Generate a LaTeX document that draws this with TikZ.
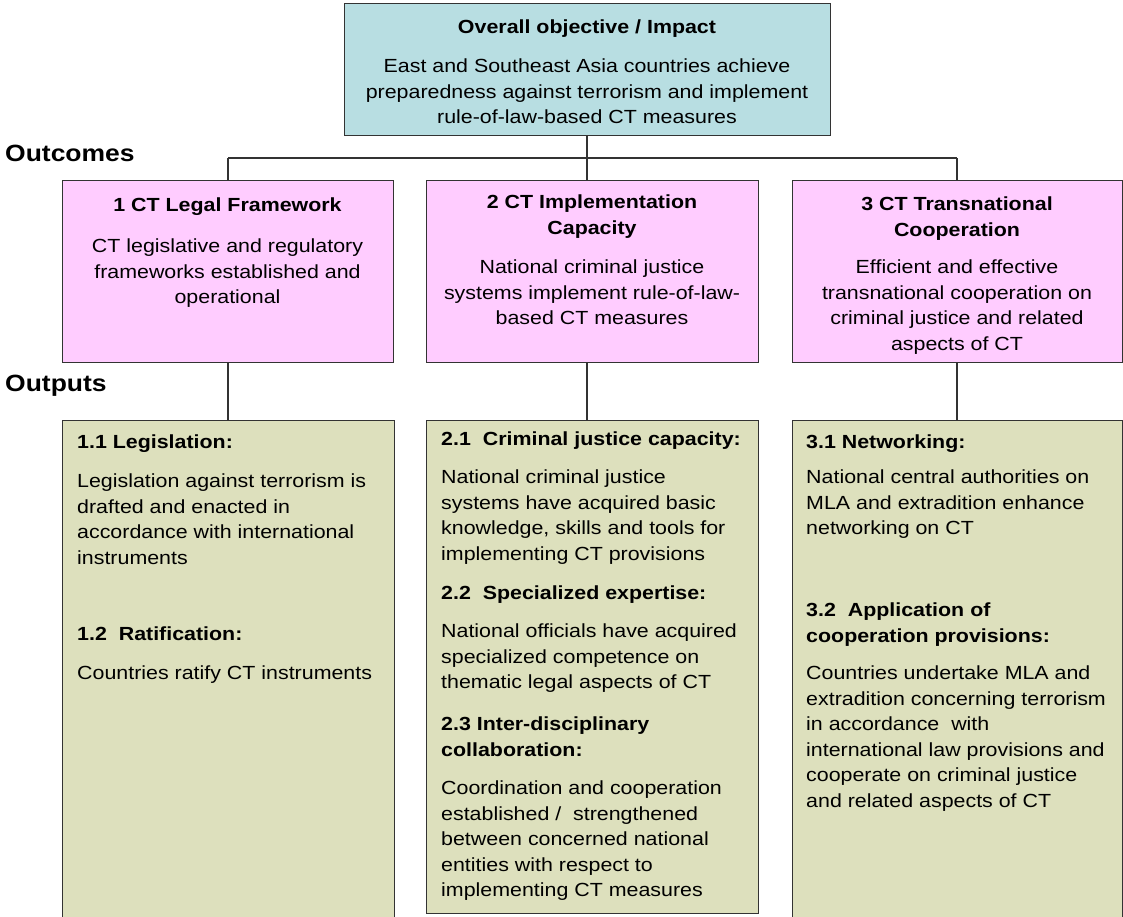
\documentclass[tikz,border=0pt]{standalone}
\usepackage{fontspec}
\setmainfont{Liberation Sans}[FakeStretch=1.126]
\definecolor{impactfill}{HTML}{B8DEE2}
\definecolor{outcomefill}{HTML}{FFCCFF}
\definecolor{outputfill}{HTML}{DDE0BD}
\definecolor{edgecol}{HTML}{333333}
\begin{document}
\begin{tikzpicture}[x=1pt,y=-1pt,
  boxshape/.style={draw=edgecol, line width=1.1pt, inner sep=0pt, anchor=north west},
  impactbox/.style={boxshape, fill=impactfill},
  outcomebox/.style={boxshape, fill=outcomefill},
  outputbox/.style={boxshape, fill=outputfill},
  link/.style={draw=edgecol, line width=1.1pt},
  ctitle/.style={anchor=north, inner sep=0pt, align=center, font=\fontsize{19}{25.5}\selectfont\bfseries},
  cbody/.style={anchor=north, inner sep=0pt, align=center, font=\fontsize{19}{25.5}\selectfont},
  ltitle/.style={anchor=north west, inner sep=0pt, align=left, font=\fontsize{19}{25.5}\selectfont\bfseries},
  lbody/.style={anchor=north west, inner sep=0pt, align=left, font=\fontsize{19}{25.5}\selectfont},
  sectionlabel/.style={anchor=north west, inner sep=0pt, font=\fontsize{23.5}{28}\selectfont\bfseries}
]
\useasboundingbox (0,0) rectangle (1123,916);
\clip (0,0) rectangle (1123,916);
\fill[white] (0,0) rectangle (1123,916);

% boxes
\node[impactbox, minimum width=486pt, minimum height=132pt] (impact) at (344,3) {};
\node[outcomebox, minimum width=331pt, minimum height=182pt] (oc1) at (62,180) {};
\node[outcomebox, minimum width=332pt, minimum height=182pt] (oc2) at (426,180) {};
\node[outcomebox, minimum width=330pt, minimum height=182pt] (oc3) at (792,180) {};
\node[outputbox, minimum width=332pt, minimum height=520pt] (op1) at (62,420) {};
\node[outputbox, minimum width=332pt, minimum height=493pt] (op2) at (426,420) {};
\node[outputbox, minimum width=330pt, minimum height=520pt] (op3) at (792,420) {};

% connectors
\coordinate (barL) at (228,158);
\coordinate (barR) at (957,158);
\coordinate (barM) at (587,158);
\draw[link] (impact.south -| barM) -- (oc2.north -| barM);
\draw[link] (barL) -- (barR);
\draw[link] (barL) -- (oc1.north -| barL);
\draw[link] (barR) -- (oc3.north -| barR);
\draw[link] (oc1.south -| barL) -- (op1.north -| barL);
\draw[link] (oc2.south -| barM) -- (op2.north -| barM);
\draw[link] (oc3.south -| barR) -- (op3.north -| barR);

% section labels
\node[sectionlabel] (lblOutcomes) at (5,145) {Outcomes};
\node[sectionlabel] (lblOutputs) at (5,375) {Outputs};

% impact text
\node[ctitle] (impT) at (587,20) {Overall objective / Impact};
\node[cbody] (impB) at (587,59) {East and Southeast Asia countries achieve\\preparedness against terrorism and implement\\rule-of-law-based CT measures};

% outcomes text
\node[ctitle] (oc1T) at (227.5,198) {1 CT Legal Framework};
\node[cbody] (oc1B) at (227.5,239) {CT legislative and regulatory\\frameworks established and\\operational};
\node[ctitle] (oc2T) at (592,195) {2 CT Implementation\\Capacity};
\node[cbody] (oc2B) at (592,260) {National criminal justice\\systems implement rule-of-law-\\based CT measures};
\node[ctitle] (oc3T) at (957,197) {3 CT Transnational\\Cooperation};
\node[cbody] (oc3B) at (957,260) {Efficient and effective\\transnational cooperation on\\criminal justice and related\\aspects of CT};

% outputs text, column 1
\node[ltitle] (o11T) at (77,435) {1.1 Legislation:};
\node[lbody] (o11B) at (77,474) {Legislation against terrorism is\\drafted and enacted in\\accordance with international\\instruments};
\node[ltitle] (o12T) at (77,627) {1.2\ \ Ratification:};
\node[lbody] (o12B) at (77,666) {Countries ratify CT instruments};

% outputs text, column 2
\node[ltitle] (o21T) at (441,432) {2.1\ \ Criminal justice capacity:};
\node[lbody] (o21B) at (441,470) {National criminal justice\\systems have acquired basic\\knowledge, skills and tools for\\implementing CT provisions};
\node[ltitle] (o22T) at (441,586) {2.2\ \ Specialized expertise:};
\node[lbody] (o22B) at (441,624) {National officials have acquired\\specialized competence on\\thematic legal aspects of CT};
\node[ltitle] (o23T) at (441,717) {2.3 Inter-disciplinary\\collaboration:};
\node[lbody] (o23B) at (441,781) {Coordination and cooperation\\established /\ \ strengthened\\between concerned national\\entities with respect to\\implementing CT measures};

% outputs text, column 3
\node[ltitle] (o31T) at (806,435) {3.1 Networking:};
\node[lbody] (o31B) at (806,470) {National central authorities on\\MLA and extradition enhance\\networking on CT};
\node[ltitle] (o32T) at (806,603) {3.2\ \ Application of\\cooperation provisions:};
\node[lbody] (o32B) at (806,666) {Countries undertake MLA and\\extradition concerning terrorism\\in accordance\ \ with\\international law provisions and\\cooperate on criminal justice\\and related aspects of CT};
\end{tikzpicture}
\end{document}
